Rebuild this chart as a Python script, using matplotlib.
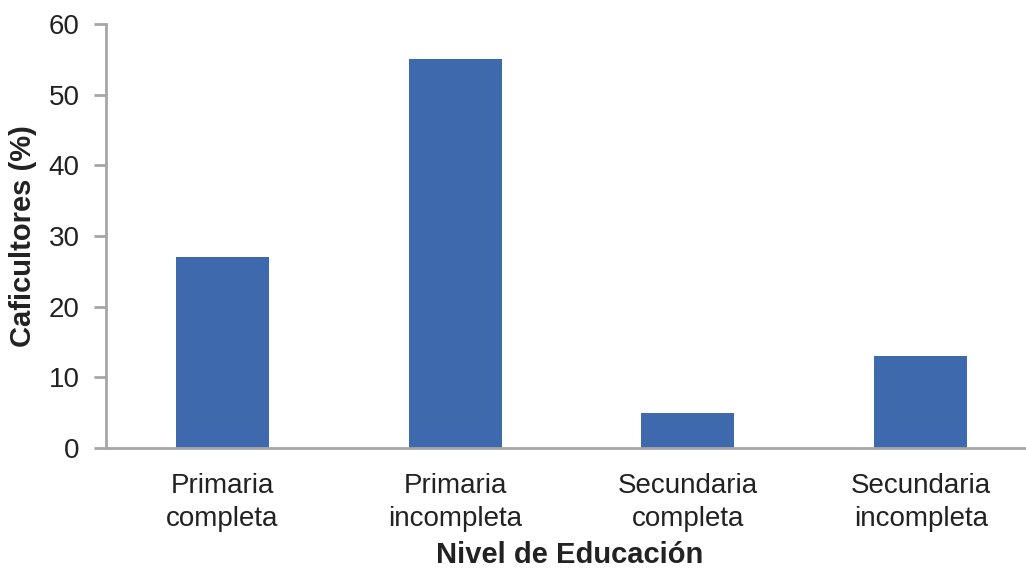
import numpy as np
import matplotlib.pyplot as plt

categorias = ['Primaria\ncompleta', 'Primaria\nincompleta', 'Secundaria\ncompleta', 'Secundaria\nincompleta']
porcentajes = [27, 55, 5, 13]
yticks = [0, 10, 20, 30, 40, 50, 60]

plt.rcParams['font.family'] = ['Liberation Sans', 'DejaVu Sans']

fig = plt.figure(figsize=(10.26, 5.72), dpi=100)
ax = fig.add_axes([106/1026, 1 - 448/572, 931/1026, 424/572])

x = np.arange(len(categorias))
ax.bar(x, porcentajes, width=0.4, color='#3e6aad')

ax.set_xlim(-0.5, 3.5)
ax.set_ylim(0, 60)
ax.set_yticks(yticks)
ax.set_xticks(x)
ax.set_xticklabels(categorias, fontsize=20, color='#222222', linespacing=1.35)
ax.tick_params(axis='y', labelsize=20, colors='#222222', length=9, width=2, color='#a6a6a6', pad=10)
ax.tick_params(axis='x', length=0, pad=18)

for s in ['top', 'right']:
    ax.spines[s].set_visible(False)
for s in ['left', 'bottom']:
    ax.spines[s].set_color('#a6a6a6')
    ax.spines[s].set_linewidth(2)

ax.set_ylabel('Caficultores (%)', fontsize=21, fontweight='bold', color='#222222', labelpad=8)
fig.text(570/1026, 1 - 555/572, 'Nivel de Educación', fontsize=21, fontweight='bold',
         color='#222222', ha='center', va='center')

fig.savefig('out.png', dpi=100)
